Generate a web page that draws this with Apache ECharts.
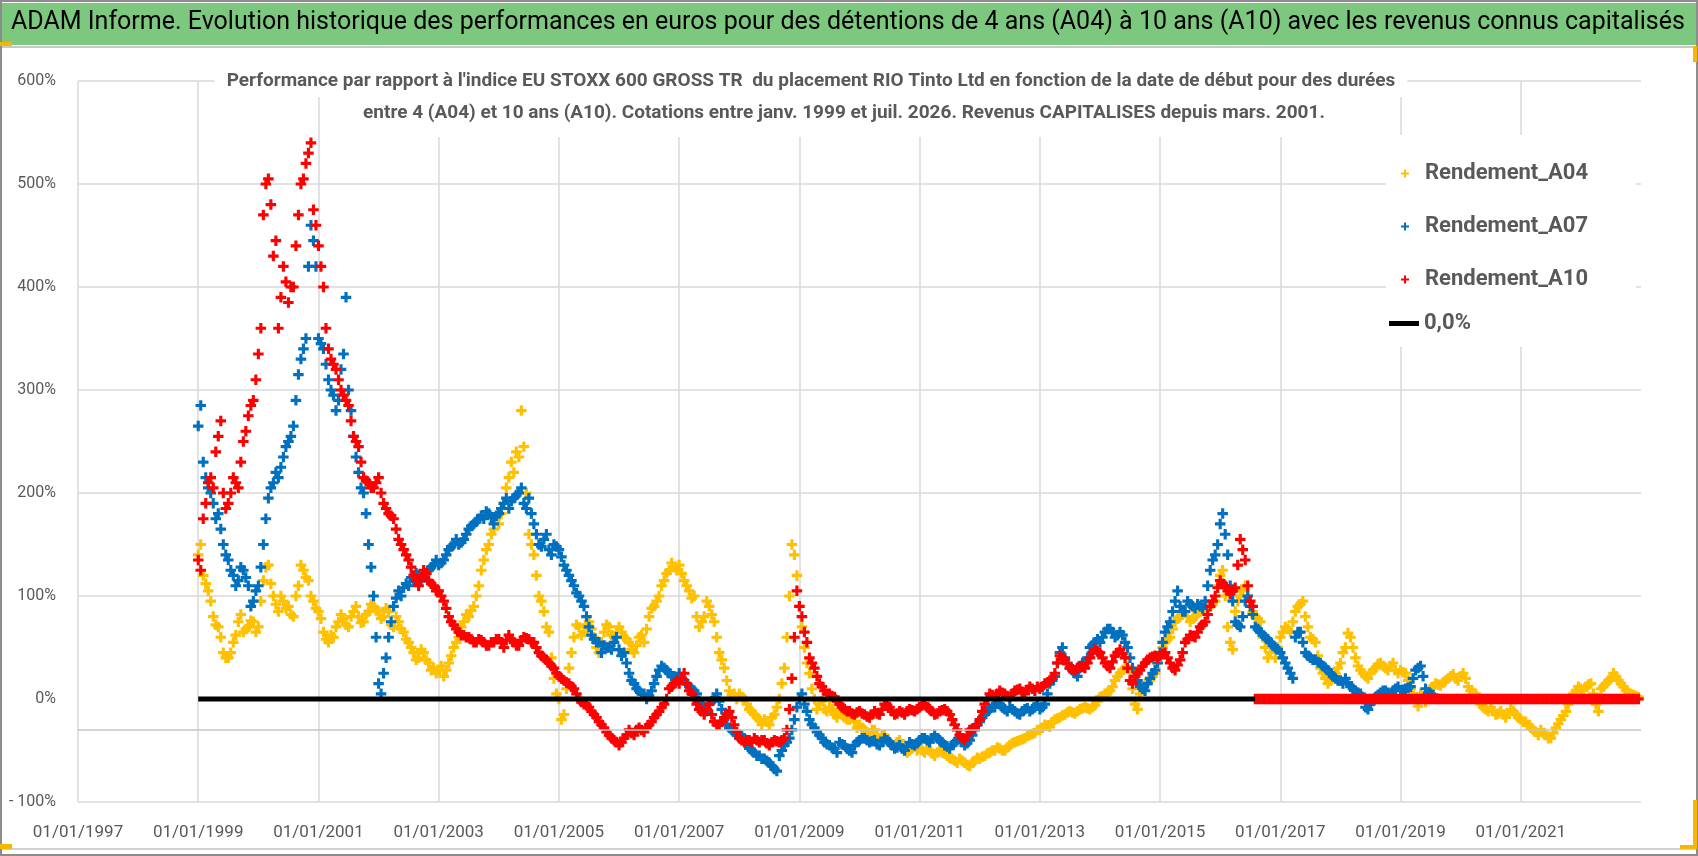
<!DOCTYPE html>
<html>
<head>
<meta charset="utf-8">
<title>ADAM Informe - RIO Tinto Ltd</title>
<script src="https://cdn.jsdelivr.net/npm/echarts@6/dist/echarts.min.js"></script>
<style>
  html, body { margin: 0; padding: 0; background: #fff; }
  #chart { width: 1698px; height: 856px; }
</style>
</head>
<body>
<div id="chart"></div>
<script>
// two readings per month (start and middle of month), first value = january 1999
var startYear = 1999;

var rendA04Start = [
  140, 120, 105, 80, 70, 45, 40, 55, 75, 65, 70, 75,          // 1999
  70, 115, 130, 100, 85, 95, 90, 80, 110, 125, 115, 95,       // 2000
  85, 65, 55, 60, 75, 78, 70, 85, 80, 75, 85, 90,             // 2001
  85, 80, 85, 70, 75, 65, 55, 45, 40, 45, 35, 30,             // 2002
  28, 22, 35, 50, 60, 75, 80, 90, 110, 135, 150, 165,         // 2003
  170, 190, 215, 220, 235, 245, 160, 140, 100, 85, 65, 20,    // 2004
  0, -15, 30, 60, 70, 65, 75, 60, 45, 65, 70, 60,             // 2005
  70, 60, 55, 45, 60, 55, 80, 90, 100, 115, 125, 128,         // 2006
  130, 115, 105, 100, 70, 80, 90, 75, 45, 30, 8, 5,           // 2007
  5, 0, -10, -15, -20, -20, -25, -15, 0, 30, 100, 140,        // 2008
  90, 50, 25, 0, -5, -10, -8, -15, -12, -18, -20, -22,        // 2009
  -25, -30, -35, -30, -38, -35, -42, -45, -40, -48, -50, -45, // 2010
  -48, -52, -50, -55, -50, -53, -57, -60, -58, -62, -65, -60, // 2011
  -58, -55, -52, -50, -48, -50, -45, -42, -40, -38, -35, -33, // 2012
  -30, -25, -27, -20, -18, -15, -12, -14, -10, -8, -10, -6,   // 2013
  2, 5, 8, 18, 25, 30, 28, -5, 5, 15, 18, 25,                 // 2014
  45, 55, 60, 75, 80, 85, 75, 80, 85, 88, 90, 95,             // 2015
  120, 100, 55, 85, 100, 110, 90, 80, 75, 50, 45, 40,         // 2016
  60, 70, 65, 85, 92, 80, 60, 55, 30, 20, 18, 25,             // 2017
  35, 50, 60, 40, 28, 22, 25, 30, 35, 30, 32, 28,             // 2018
  28, 25, 10, 0, 5, -3, 10, 15, 13, 18, 22, 20,               // 2019
  22, 20, 8, 5, -5, -10, -8, -15, -12, -18, -10, -15,         // 2020
  -20, -22, -28, -32, -30, -35, -38, -28, -20, -12, 0, 8,     // 2021
  10, 12, 15, -5, 10, 15, 20, 22, 15, 8, 5, 3                 // 2022
];
var rendA04Mid = [
  150, 112, 95, 72, 60, 40, 45, 62, 82, 68, 76, 65,           // 1999
  95, 128, 112, 92, 100, 88, 82, 100, 130, 118, 100, 88,      // 2000
  78, 58, 62, 70, 82, 72, 80, 90, 74, 82, 92, 86,             // 2001
  78, 88, 72, 80, 68, 58, 50, 38, 48, 38, 28, 25,             // 2002
  32, 28, 42, 55, 70, 82, 86, 100, 125, 145, 160, 175,        // 2003
  180, 205, 230, 240, 280, 200, 150, 120, 95, 70, 40, 5,      // 2004
  -20, 10, 45, 72, 62, 72, 68, 50, 55, 72, 62, 65,            // 2005
  65, 58, 48, 52, 62, 68, 88, 95, 110, 122, 132, 125,         // 2006
  122, 110, 98, 80, 75, 95, 82, 60, 38, 18, 4, 0,             // 2007
  2, -5, -12, -18, -25, -22, -18, -8, 15, 60, 150, 120,       // 2008
  70, 35, 10, -10, -2, -12, -10, -18, -15, -20, -18, -28,     // 2009
  -28, -32, -30, -36, -35, -40, -45, -42, -46, -52, -48, -50, // 2010
  -50, -48, -53, -52, -52, -55, -58, -62, -60, -64, -62, -57, // 2011
  -56, -53, -50, -47, -50, -47, -43, -41, -39, -36, -34, -30, // 2012
  -28, -26, -22, -19, -16, -13, -13, -12, -9, -9, -8, -2,     // 2013
  3, 6, 12, 22, 28, 32, 10, -10, 10, 16, 22, 35,              // 2014
  50, 58, 68, 78, 82, 80, 78, 84, 86, 90, 92, 110,            // 2015
  125, 70, 48, 95, 105, 100, 85, 78, 60, 40, 50, 50,          // 2016
  65, 68, 75, 90, 95, 70, 58, 42, 25, 15, 22, 30,             // 2017
  45, 64, 50, 32, 25, 20, 28, 34, 32, 28, 35, 25,             // 2018
  26, 18, 5, -7, 2, 5, 12, 14, 16, 20, 24, 18,                // 2019
  25, 12, 6, 0, -8, -12, -12, -14, -15, -14, -12, -18,        // 2020
  -22, -25, -30, -35, -33, -38, -33, -24, -16, -5, 5, 12,     // 2021
  8, 14, 5, -12, 12, 18, 25, 18, 12, 6, 4, 2                  // 2022
];

var rendA07Start = [
  265, 230, 205, 190, 180, 150, 135, 120, 115, 125, 110, 95,  // 1999
  110, 150, 195, 210, 215, 235, 250, 265, 315, 340, 420, 445, // 2000
  350, 340, 310, 295, 290, 335, 300, 255, 220, 200, 150, 100, // 2001
  15, 25, 60, 90, 105, 108, 110, 115, 120, 118, 125, 130,     // 2002
  130, 135, 145, 150, 150, 155, 165, 170, 175, 175, 180, 170, // 2003
  180, 190, 185, 195, 200, 190, 195, 170, 150, 155, 145, 150, // 2004
  145, 130, 120, 110, 100, 90, 70, 58, 55, 52, 50, 55,        // 2005
  48, 45, 25, 15, 8, 5, 3, 15, 28, 30, 25, 22,                // 2006
  25, 18, 12, 8, -2, -8, -5, 0, -2, -20, -28, -32,            // 2007
  -35, -38, -48, -52, -55, -58, -62, -68, -55, -45, -38, -20, // 2008
  0, -5, -20, -28, -35, -42, -45, -48, -42, -45, -50, -45,    // 2009
  -40, -38, -42, -40, -45, -38, -42, -48, -45, -50, -42, -45, // 2010
  -40, -38, -42, -35, -40, -45, -48, -42, -38, -45, -40, -30, // 2011
  -22, -15, -10, -8, -5, -10, -8, -12, -15, -10, -12, -8,     // 2012
  -10, -5, 15, 22, 45, 40, 30, 25, 30, 35, 50, 55,            // 2013
  55, 65, 68, 60, 65, 55, 40, 22, 12, 8, 20, 28,              // 2014
  45, 65, 75, 95, 90, 85, 92, 88, 90, 95, 125, 140,           // 2015
  170, 160, 110, 75, 70, 95, 90, 70, 65, 60, 55, 50,          // 2016
  45, 35, 25, 60, 65, 45, 40, 38, 35, 30, 25, 20,             // 2017
  18, 20, 12, 8, 5, -8, -5, 2, 6, 8, 5, 10,                   // 2018
  8, 10, 12, 28, 32, 10, 5                                    // 2019
];
var rendA07Mid = [
  285, 215, 200, 175, 165, 140, 125, 110, 128, 118, 90, 105,  // 1999
  128, 175, 205, 220, 225, 245, 255, 290, 330, 350, 460, 420, // 2000
  345, 325, 300, 280, 320, 390, 280, 235, 205, 180, 128, 60,  // 2001
  5, 40, 75, 98, 100, 112, 118, 122, 115, 122, 128, 135,      // 2002
  132, 140, 148, 155, 152, 160, 168, 172, 178, 182, 176, 178, // 2003
  185, 195, 192, 198, 205, 185, 180, 160, 148, 160, 140, 148, // 2004
  138, 125, 115, 103, 95, 80, 62, 55, 45, 50, 48, 60,         // 2005
  42, 35, 18, 10, 5, 0, 8, 22, 32, 28, 22, 20,                // 2006
  20, 15, 10, 5, -5, -12, -2, 5, -10, -25, -30, -35,          // 2007
  -36, -42, -50, -55, -58, -60, -65, -70, -50, -42, -30, -8,  // 2008
  5, -12, -25, -32, -38, -44, -47, -52, -44, -48, -52, -42,   // 2009
  -38, -40, -41, -44, -42, -40, -45, -47, -48, -46, -44, -43, // 2010
  -38, -40, -38, -38, -42, -46, -45, -40, -42, -43, -35, -25, // 2011
  -18, -12, -8, -4, -8, -12, -10, -14, -12, -9, -10, -5,      // 2012
  -8, 5, 18, 35, 50, 35, 28, 22, 35, 40, 52, 58,              // 2013
  60, 68, 65, 62, 62, 50, 30, 18, 10, 15, 25, 35,             // 2014
  55, 70, 85, 105, 85, 95, 90, 92, 88, 110, 135, 150,         // 2015
  180, 140, 95, 72, 80, 100, 82, 68, 62, 58, 52, 48,          // 2016
  40, 30, 20, 65, 55, 42, 38, 36, 32, 28, 22, 18,             // 2017
  15, 16, 10, 6, 0, -10, -2, 4, 8, 6, 8, 12,                  // 2018
  9, 11, 20, 30, 22, 6, 4                                     // 2019
];

var rendA10Start = [
  135, 175, 210, 205, 255, 200, 190, 215, 205, 250, 275, 290, // 1999
  335, 470, 505, 430, 360, 420, 385, 400, 470, 505, 530, 475, // 2000
  440, 400, 340, 325, 310, 295, 285, 255, 245, 215, 210, 205, // 2001
  215, 190, 180, 175, 155, 145, 135, 120, 110, 125, 115, 110, // 2002
  105, 95, 80, 72, 65, 62, 60, 55, 58, 55, 52, 55,            // 2003
  58, 50, 62, 55, 52, 60, 58, 55, 45, 40, 35, 30,             // 2004
  22, 18, 15, 10, 0, -5, -8, -15, -22, -28, -35, -40,         // 2005
  -45, -38, -30, -35, -28, -32, -25, -18, -12, -5, 10, 15,    // 2006
  15, 25, 8, 0, -10, -15, -5, -22, -25, -18, -12, -25,        // 2007
  -38, -42, -40, -38, -42, -40, -45, -40, -42, -38, -10, 60,  // 2008
  90, 65, 40, 30, 15, 8, 5, 2, -5, -10, -12, -15,             // 2009
  -12, -15, -18, -12, -15, -5, -8, -15, -12, -15, -10, -12,   // 2010
  -8, -5, -10, -15, -12, -10, -15, -25, -35, -40, -30, -28,   // 2011
  -20, -5, 5, 2, 8, 5, 2, 8, 10, 5, 12, 8,                    // 2012
  10, 15, 18, 25, 42, 38, 30, 28, 32, 30, 40, 48,             // 2013
  45, 35, 30, 42, 48, 40, 18, 22, 28, 35, 40, 42,             // 2014
  42, 45, 35, 28, 38, 55, 62, 60, 70, 75, 90, 100,            // 2015
  115, 110, 102, 108, 155, 135, 95, 0, 0, 0, 0, 0,            // 2016
  0, 0, 0, 0, 0, 0, 0, 0, 0, 0, 0, 0,                         // 2017
  0, 0, 0, 0, 0, 0, 0, 0, 0, 0, 0, 0,                         // 2018
  0, 0, 0, 0, 0, 0, 0, 0, 0, 0, 0, 0,                         // 2019
  0, 0, 0, 0, 0, 0, 0, 0, 0, 0, 0, 0,                         // 2020
  0, 0, 0, 0, 0, 0, 0, 0, 0, 0, 0, 0,                         // 2021
  0, 0, 0, 0, 0, 0, 0, 0, 0, 0, 0, 0                          // 2022
];
var rendA10Mid = [
  125, 190, 215, 240, 270, 185, 200, 210, 230, 260, 285, 310, // 1999
  360, 500, 480, 445, 390, 405, 400, 440, 500, 520, 540, 460, // 2000
  420, 360, 330, 320, 300, 290, 270, 250, 230, 212, 205, 210, // 2001
  200, 185, 178, 165, 150, 140, 128, 115, 118, 122, 112, 105, // 2002
  100, 88, 75, 68, 62, 60, 58, 55, 57, 52, 55, 58,            // 2003
  55, 57, 58, 52, 57, 59, 55, 50, 42, 38, 32, 25,             // 2004
  20, 16, 12, 5, -3, -6, -12, -18, -25, -32, -38, -42,        // 2005
  -42, -35, -33, -30, -30, -28, -22, -15, -8, 0, 12, 18,      // 2006
  20, 15, 5, -5, -12, -10, -15, -25, -22, -15, -18, -32,      // 2007
  -40, -40, -42, -40, -40, -43, -42, -41, -40, -30, 20, 105,  // 2008
  80, 55, 35, 22, 12, 5, 3, -2, -8, -12, -14, -13,            // 2009
  -14, -17, -15, -14, -10, -6, -12, -14, -13, -12, -11, -10,  // 2010
  -6, -8, -12, -14, -11, -12, -20, -30, -38, -35, -29, -25,   // 2011
  -12, 0, 4, 5, 6, 3, 5, 9, 7, 9, 10, 12,                     // 2012
  12, 16, 20, 35, 40, 34, 29, 30, 31, 35, 45, 46,             // 2013
  40, 32, 36, 45, 44, 30, 15, 25, 32, 38, 41, 40,             // 2014
  44, 40, 30, 33, 45, 58, 61, 65, 72, 82, 95, 108,            // 2015
  112, 105, 105, 130, 145, 110, 90, 0, 0, 0, 0, 0,            // 2016
  0, 0, 0, 0, 0, 0, 0, 0, 0, 0, 0, 0,                         // 2017
  0, 0, 0, 0, 0, 0, 0, 0, 0, 0, 0, 0,                         // 2018
  0, 0, 0, 0, 0, 0, 0, 0, 0, 0, 0, 0,                         // 2019
  0, 0, 0, 0, 0, 0, 0, 0, 0, 0, 0, 0,                         // 2020
  0, 0, 0, 0, 0, 0, 0, 0, 0, 0, 0, 0,                         // 2021
  0, 0, 0, 0, 0, 0, 0, 0, 0, 0, 0, 0                          // 2022
];

// the black 0,0% reference line, drawn while the A10 data run
var zeroLineYears = [1999, 2016.58];
var zeroLineValues = [0, 0];
// grey horizontal axis line crossing the plot
var axisCrossValue = -30;

var seriesNames = ['Rendement_A04', 'Rendement_A07', 'Rendement_A10', '0,0%'];
var subtitleLines = [
  "Performance par rapport à l'indice EU STOXX 600 GROSS TR  du placement RIO Tinto Ltd en fonction de la date de début pour des durées",
  'entre 4 (A04) et 10 ans (A10). Cotations entre janv. 1999 et juil. 2026. Revenus CAPITALISES depuis mars. 2001.'
];

var FONT = 'Roboto, "Liberation Sans", sans-serif';
var plusThin = 'path://M3,0H5V3H8V5H5V8H3V5H0V3H3Z';
var plusBold = 'path://M2.8,0H5.2V2.8H8V5.2H5.2V8H2.8V5.2H0V2.8H2.8Z';

// x = fractional year, offset 0 for the start of month, 0.5 for the middle
function toPoints(values, offset) {
  return values.map(function (v, i) {
    return [startYear + (i + offset) / 12, v];
  });
}

function scatterSeries(name, start, mid, color) {
  return {
    name: name,
    type: 'scatter',
    data: toPoints(start, 0).concat(toPoints(mid, 0.5)),
    symbol: plusBold,
    symbolSize: 10.5,
    itemStyle: { color: color, opacity: 1 }
  };
}

var subStyle = { fontFamily: FONT, fontSize: 19, fontWeight: 'bold', color: '#595959', lineHeight: 24 };
var legendText = { fontFamily: FONT, fontSize: 22, fontWeight: 'bold', color: '#595959', lineHeight: 25 };

var yellow = scatterSeries(seriesNames[0], rendA04Start, rendA04Mid, '#FFC000');
yellow.markLine = {
  silent: true,
  symbol: 'none',
  label: { show: false },
  lineStyle: { color: '#c4c4c4', width: 1.6, type: 'solid' },
  data: [{ yAxis: axisCrossValue }]
};

var chart = echarts.init(document.getElementById('chart'));
var option = {
  animation: false,
  backgroundColor: '#fff',
  title: [{
    text: 'ADAM Informe. Evolution historique des performances en euros pour des détentions de 4 ans (A04) à 10 ans (A10) avec les revenus connus capitalisés',
    left: 11,
    top: 10,
    padding: 0,
    textStyle: { fontFamily: FONT, fontSize: 25, fontWeight: 'normal', color: '#000' }
  }, {
    text: subtitleLines[0],
    left: 799,
    top: 63,
    textAlign: 'center',
    padding: [6, 12, 4, 12],
    backgroundColor: '#fff',
    textStyle: subStyle
  }, {
    text: subtitleLines[1],
    left: 832,
    top: 97,
    textAlign: 'center',
    padding: [4, 12, 12, 12],
    backgroundColor: '#fff',
    textStyle: subStyle
  }],
  legend: [{
    data: [
      { name: seriesNames[0], icon: plusThin },
      { name: seriesNames[1], icon: plusThin },
      { name: seriesNames[2], icon: plusThin }
    ],
    orient: 'vertical',
    left: 1401,
    top: 161,
    padding: 0,
    itemWidth: 30,
    itemHeight: 8,
    itemGap: 28,
    selectedMode: false,
    textStyle: legendText
  }, {
    data: [{ name: seriesNames[3], icon: 'rect' }],
    orient: 'vertical',
    left: 1389,
    top: 311,
    padding: 0,
    itemWidth: 30,
    itemHeight: 5,
    selectedMode: false,
    textStyle: legendText
  }],
  grid: { left: 78, right: 57, top: 81, bottom: 54, outerBoundsMode: 'none' },
  xAxis: {
    type: 'value',
    min: 1997,
    max: 2023,
    interval: 2,
    axisLine: { show: false, onZero: false },
    axisTick: { show: false },
    axisLabel: {
      margin: 22,
      color: '#595959',
      fontSize: 17,
      fontFamily: FONT,
      showMaxLabel: false,
      formatter: function (v) { return '01/01/' + v; }
    },
    splitLine: { show: true, showMaxLine: false, lineStyle: { color: '#d9d9d9', width: 1.5 } }
  },
  yAxis: {
    type: 'value',
    min: -100,
    max: 600,
    interval: 100,
    axisLine: { show: false },
    axisTick: { show: false },
    axisLabel: {
      margin: 22,
      color: '#595959',
      fontSize: 16,
      fontFamily: FONT,
      formatter: function (v) { return v < 0 ? '- ' + (-v) + '%' : v + '%'; }
    },
    splitLine: {
      lineStyle: {
        color: ['#d9d9d9', 'rgba(0,0,0,0)', '#d9d9d9', '#d9d9d9', '#d9d9d9', '#d9d9d9', '#d9d9d9', '#d9d9d9'],
        width: 1.5
      }
    }
  },
  series: [
    yellow,
    scatterSeries(seriesNames[1], rendA07Start, rendA07Mid, '#0070C0'),
    scatterSeries(seriesNames[2], rendA10Start, rendA10Mid, '#FF0000'),
    {
      name: seriesNames[3],
      type: 'line',
      data: zeroLineYears.map(function (y, i) { return [y, zeroLineValues[i]]; }),
      symbol: 'none',
      lineStyle: { color: '#000', width: 5 },
      itemStyle: { color: '#000' }
    }
  ],
  graphic: [
    { type: 'rect', z: 0, shape: { x: 2, y: 3, width: 1694, height: 42 }, style: { fill: '#7dc87f' } },
    { type: 'line', z: 0, shape: { x1: 2, y1: 47, x2: 1696, y2: 47 }, style: { stroke: '#c8c8c8', lineWidth: 2 } },
    { type: 'rect', z: 0, shape: { x: 1, y: 1, width: 1696, height: 854 }, style: { fill: 'none', stroke: '#8c8c8c', lineWidth: 2 } },
    { type: 'line', z: 0, shape: { x1: 2, y1: 849, x2: 1696, y2: 849 }, style: { stroke: '#d0d0d0', lineWidth: 2 } },
    { type: 'rect', z: 1, shape: { x: 1386, y: 135, width: 250, height: 212 }, style: { fill: '#fff' } },
    { type: 'rect', z: 0, shape: { x: 0, y: 42, width: 12, height: 4 }, style: { fill: '#f5b800' } },
    { type: 'rect', z: 0, shape: { x: 0, y: 844, width: 12, height: 5 }, style: { fill: '#f5b800' } },
    { type: 'rect', z: 0, shape: { x: 1693, y: 46, width: 4, height: 16 }, style: { fill: '#f5b800' } },
    { type: 'rect', z: 0, shape: { x: 1693, y: 800, width: 4, height: 48 }, style: { fill: '#f5b800' } },
    { type: 'rect', z: 0, shape: { x: 1680, y: 845, width: 17, height: 4 }, style: { fill: '#f5b800' } }
  ]
};
chart.setOption(option);
</script>
</body>
</html>
